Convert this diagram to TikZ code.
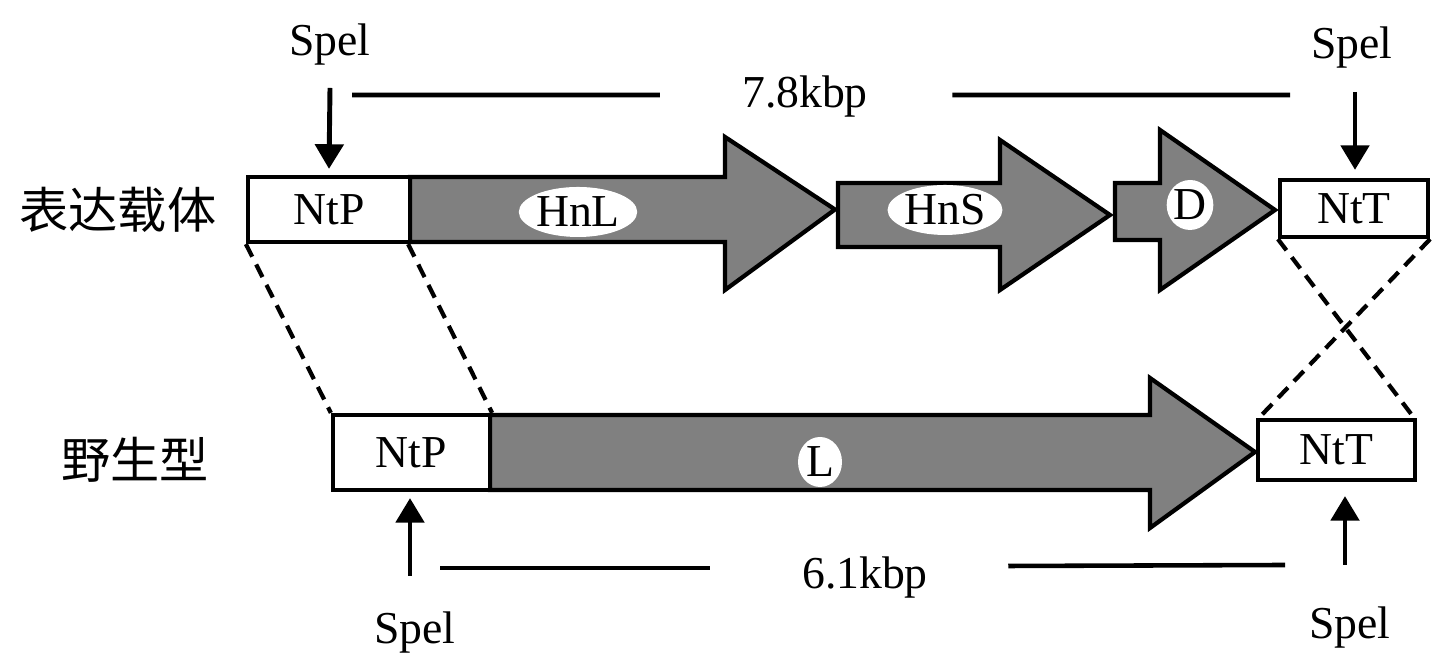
\documentclass[tikz,border=0pt]{standalone}
\usepackage{fontspec}
\setmainfont{Liberation Serif}
\newfontfamily\cjk{Noto Sans CJK SC}
\usetikzlibrary{shapes.geometric, arrows.meta, positioning, calc}
\definecolor{genegray}{RGB}{128, 128, 128}

\tikzset{
    seg/.style={draw, line width=1.2pt, fill=white, inner sep=0pt, font=\fontsize{13}{15}\selectfont},
    gene/.style={draw, line width=1.2pt, fill=genegray, line join=miter},
    tag/.style={ellipse, fill=white, inner sep=0pt, minimum height=0.50cm, font=\fontsize{13}{15}\selectfont},
    cut/.style={-{Triangle[width=8pt, length=7pt]}, line width=1.4pt},
    cross/.style={line width=1.2pt, dash pattern=on 4pt off 2.5pt},
    span/.style={line width=1.3pt},
    lbl/.style={font=\fontsize{13}{15}\selectfont}
}

\begin{document}
\begin{tikzpicture}
    \useasboundingbox (0,0) rectangle (14.32,6.62);

    % Row titles
    \node[font=\cjk\fontsize{14}{16}\selectfont] (vec) at (1.18, 4.52) {表达载体};
    \node[font=\cjk\fontsize{14}{16}\selectfont] (wt) at (1.35, 2.02) {野生型};

    % Expression vector: gene arrows
    \draw[gene] (4.10,4.20) -- (7.25,4.20) -- (7.25,3.72) -- (8.35,4.525) -- (7.25,5.25) -- (7.25,4.85) -- (4.10,4.85) -- cycle;
    \draw[gene] (8.38,4.15) -- (10.00,4.15) -- (10.00,3.72) -- (11.10,4.47) -- (10.00,5.22) -- (10.00,4.79) -- (8.38,4.79) -- cycle;
    \draw[gene] (11.15,4.22) -- (11.60,4.22) -- (11.60,3.72) -- (12.75,4.52) -- (11.60,5.32) -- (11.60,4.79) -- (11.15,4.79) -- cycle;
    \node[tag, minimum width=0.95cm] (hnl) at (5.78, 4.50) {HnL};
    \node[tag, minimum width=0.95cm] (hns) at (9.45, 4.52) {HnS};
    \node[tag, minimum width=0.44cm] (d) at (11.90, 4.57) {D};

    % Expression vector: flanks
    \node[seg, minimum width=1.62cm, minimum height=0.65cm] (ntp1) at (3.29, 4.525) {NtP};
    \node[seg, minimum width=1.48cm, minimum height=0.57cm] (ntt1) at (13.54, 4.535) {NtT};

    % Wild type
    \draw[gene] (4.90,1.72) -- (11.50,1.72) -- (11.50,1.34) -- (12.55,2.10) -- (11.50,2.84) -- (11.50,2.47) -- (4.90,2.47) -- cycle;
    \node[tag, minimum width=0.44cm] (l) at (8.20, 2.00) {L};
    \node[seg, minimum width=1.57cm, minimum height=0.75cm] (ntp2) at (4.115, 2.095) {NtP};
    \node[seg, minimum width=1.57cm, minimum height=0.60cm] (ntt2) at (13.365, 2.12) {NtT};

    % Homologous arms
    \draw[cross] (ntp1.south west) -- (ntp2.north west);
    \draw[cross] ([xshift=-0.04cm]ntp1.south east) -- (ntp2.north east);
    \draw[cross] (ntt1.south west) -- ([xshift=-0.03cm]ntt2.north east);
    \draw[cross] (ntt1.south east) -- ([xshift=0.03cm]ntt2.north west);

    % SpeI sites, vector
    \node[lbl] (s1) at (3.30, 6.17) {Spel};
    \node[lbl] (s2) at (13.52, 6.14) {Spel};
    \coordinate (c1) at (3.30, 5.74);
    \coordinate (c2) at (13.55, 5.70);
    \draw[cut] (c1) -- ([yshift=0.06cm]ntp1.north);
    \draw[cut] (c2) -- ([yshift=0.08cm]ntt1.north -| c2);

    % SpeI sites, wild type
    \node[lbl] (s3) at (4.15, 0.29) {Spel};
    \node[lbl] (s4) at (13.50, 0.34) {Spel};
    \coordinate (c3) at (4.10, 0.86);
    \coordinate (c4) at (13.45, 0.97);
    \draw[cut] (c3) -- ([yshift=-0.06cm]ntp2.south -| c3);
    \draw[cut] (c4) -- ([yshift=-0.14cm]ntt2.south -| c4);

    % Fragment lengths
    \node[lbl] (k1) at (8.05, 5.65) {7.8kbp};
    \coordinate (k1a) at (3.52, 5.67);
    \coordinate (k1b) at (12.90, 5.67);
    \draw[span] (k1a) -- ($(k1.west)+(-0.70,0.02)$);
    \draw[span] ($(k1.east)+(0.72,0.02)$) -- (k1b);

    \node[lbl] (k2) at (8.65, 0.84) {6.1kbp};
    \coordinate (k2a) at (4.40, 0.94);
    \coordinate (k2b) at (12.85, 0.97);
    \draw[span] (k2a) -- ($(k2.west)+(-0.80,0.10)$);
    \draw[span] ($(k2.east)+(0.68,0.12)$) -- (k2b);

\end{tikzpicture}
\end{document}
